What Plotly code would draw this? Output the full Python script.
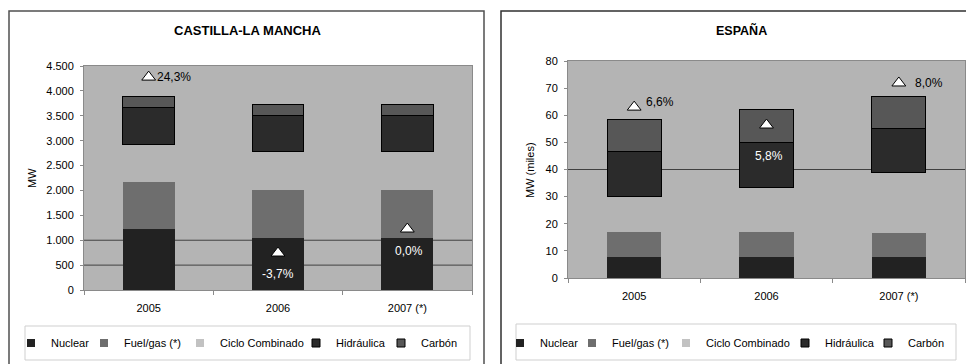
import plotly.graph_objects as go

# ---------------- data ----------------
years = ["2005", "2006", "2007 (*)"]
series_names = ["Nuclear", "Fuel/gas (*)", "Ciclo Combinado", "Hidráulica", "Carbón"]

# Castilla-La Mancha (MW)
clm_nuclear = [1220, 1050, 1050]
clm_fuelgas = [955, 958, 958]
clm_ciclo = [750, 783, 783]
clm_hidraulica = [735, 723, 723]
clm_carbon = [230, 215, 215]

# España (miles de MW)
esp_nuclear = [7.8, 7.8, 7.8]
esp_fuelgas = [9.0, 9.0, 8.7]
esp_ciclo = [13.2, 16.6, 22.3]
esp_hidraulica = [16.8, 16.5, 16.4]
esp_carbon = [11.8, 12.1, 11.6]

# variation labels
clm_change_labels = ["24,3%", "-3,7%", "0,0%"]
esp_change_labels = ["6,6%", "5,8%", "8,0%"]

clm_ref_lines = [500, 1000]
esp_ref_lines = [40]

clm_yticks = [0, 500, 1000, 1500, 2000, 2500, 3000, 3500, 4000, 4500]
esp_yticks = [0, 10, 20, 30, 40, 50, 60, 70, 80]

# ---------------- styles ----------------
W, H = 966, 364
FONT = "Liberation Sans, Arial, sans-serif"
BG = "#b4b4b4"
colors = ["#222222", "#6e6e6e", BG, "#2b2b2b", "#575757"]
legend_colors = ["#222222", "#6e6e6e", "#c2c2c2", "#2b2b2b", "#575757"]
outline = [0, 0, 0, 1, 1]

# legend text start positions (px) per panel
clm_legend_text_px = [49, 122, 218, 334, 419]
esp_legend_text_px = [538, 610, 704, 823, 906]


def px_x(p):
    return p / W


def px_y(p):
    return 1 - p / H


fig = go.Figure()

clm_series = [clm_nuclear, clm_fuelgas, clm_ciclo, clm_hidraulica, clm_carbon]
esp_series = [esp_nuclear, esp_fuelgas, esp_ciclo, esp_hidraulica, esp_carbon]

for i, name in enumerate(series_names):
    fig.add_trace(go.Bar(
        x=years, y=clm_series[i], name=name, xaxis="x", yaxis="y",
        marker=dict(color=colors[i], line=dict(color="#000000", width=outline[i])),
        width=0.40, showlegend=False, hoverinfo="skip"))
    fig.add_trace(go.Bar(
        x=years, y=esp_series[i], name=name, xaxis="x2", yaxis="y2",
        marker=dict(color=colors[i], line=dict(color="#000000", width=outline[i])),
        width=0.41, showlegend=False, hoverinfo="skip"))

# legend entries: one small legend per entry so they can sit where the original has them
legend_layouts = {}
n = 0
for panel, (xa, ya, text_px) in enumerate((("x", "y", clm_legend_text_px), ("x2", "y2", esp_legend_text_px))):
    for i, name in enumerate(series_names):
        n += 1
        lname = "legend" if n == 1 else f"legend{n}"
        fig.add_trace(go.Scatter(
            x=[None], y=[None], name=name, xaxis=xa, yaxis=ya, mode="markers",
            marker=dict(symbol="square", size=8, color=legend_colors[i],
                        line=dict(color="#000000", width=outline[i])),
            legend=lname, showlegend=True))
        legend_layouts[lname] = dict(
            orientation="h", x=px_x(text_px[i] - 38), xanchor="left", y=px_y(343), yanchor="middle",
            font=dict(family=FONT, size=11, color="black"), bgcolor="rgba(0,0,0,0)",
            borderwidth=0, itemclick=False, itemdoubleclick=False)

# triangles for variation markers
clm_tri_y = [4277, 743, 1225]
clm_label_y = [4277, 321, 783]
esp_tri_y = [63.0, 56.4, 71.9]
esp_label_y = [64.9, 45.0, 72.0]

tri_marker = dict(symbol="triangle-up", size=12, color="white", line=dict(color="black", width=1))
fig.add_trace(go.Scatter(x=years, y=clm_tri_y, mode="markers", xaxis="x", yaxis="y", showlegend=False,
                         marker=tri_marker, hoverinfo="skip"))
fig.add_trace(go.Scatter(x=years, y=esp_tri_y, mode="markers", xaxis="x2", yaxis="y2", showlegend=False,
                         marker=tri_marker, hoverinfo="skip"))

annotations = []
clm_label_style = [("left", 6, "black"), ("center", 0, "white"), ("center", 2, "white")]
esp_label_style = [("left", 10, "black"), ("center", 2, "white"), ("left", 14, "black")]
for i in range(3):
    xa, xs, col = clm_label_style[i]
    annotations.append(dict(x=i, y=clm_label_y[i], xref="x", yref="y", text=clm_change_labels[i],
                            showarrow=False, xanchor=xa, xshift=xs, yanchor="middle",
                            font=dict(family=FONT, size=12, color=col)))
    xa, xs, col = esp_label_style[i]
    annotations.append(dict(x=i, y=esp_label_y[i], xref="x2", yref="y2", text=esp_change_labels[i],
                            showarrow=False, xanchor=xa, xshift=xs, yanchor="middle",
                            font=dict(family=FONT, size=12, color=col)))

# titles
annotations.append(dict(x=px_x(247), y=px_y(30), xref="paper", yref="paper", text="<b>CASTILLA-LA MANCHA</b>",
                        showarrow=False, xanchor="center", yanchor="middle",
                        font=dict(family=FONT, size=13, color="black")))
annotations.append(dict(x=px_x(741), y=px_y(30), xref="paper", yref="paper", text="<b>ESPAÑA</b>",
                        showarrow=False, xanchor="center", yanchor="middle",
                        font=dict(family=FONT, size=12.5, color="black")))
# axis titles
annotations.append(dict(x=px_x(32), y=px_y(178), xref="paper", yref="paper", text="MW", textangle=-90,
                        showarrow=False, xanchor="center", yanchor="middle",
                        font=dict(family=FONT, size=11, color="black")))
annotations.append(dict(x=px_x(530), y=px_y(170), xref="paper", yref="paper", text="MW (miles)", textangle=-90,
                        showarrow=False, xanchor="center", yanchor="middle",
                        font=dict(family=FONT, size=11, color="black")))

shapes = []
# panel borders
shapes.append(dict(type="rect", xref="paper", yref="paper", x0=px_x(9), x1=px_x(484), y0=px_y(380), y1=px_y(11),
                   line=dict(color="#505050", width=1.5), fillcolor="rgba(0,0,0,0)", layer="below"))
shapes.append(dict(type="rect", xref="paper", yref="paper", x0=px_x(501), x1=px_x(990), y0=px_y(380), y1=px_y(11),
                   line=dict(color="#303030", width=1.5), fillcolor="rgba(0,0,0,0)", layer="below"))
# legend boxes
shapes.append(dict(type="rect", xref="paper", yref="paper", x0=px_x(25), x1=px_x(470), y0=px_y(360), y1=px_y(326),
                   line=dict(color="#cfcfcf", width=1), fillcolor="rgba(0,0,0,0)", layer="below"))
shapes.append(dict(type="rect", xref="paper", yref="paper", x0=px_x(516), x1=px_x(956), y0=px_y(360), y1=px_y(324),
                   line=dict(color="#cfcfcf", width=1), fillcolor="rgba(0,0,0,0)", layer="below"))
# reference lines
for v in clm_ref_lines:
    shapes.append(dict(type="line", xref="x domain", yref="y", x0=0, x1=1, y0=v, y1=v,
                       line=dict(color="#404040", width=1), layer="below"))
for v in esp_ref_lines:
    shapes.append(dict(type="line", xref="x2 domain", yref="y2", x0=0, x1=1, y0=v, y1=v,
                       line=dict(color="#404040", width=1), layer="below"))

axis_common = dict(showline=True, mirror=True, linecolor="#8a8a8a", linewidth=1, showgrid=False, zeroline=False,
                   tickfont=dict(family=FONT, size=11, color="black"))

fig.update_layout(
    width=W, height=H,
    margin=dict(l=0, r=0, t=0, b=0, autoexpand=False),
    paper_bgcolor="white", plot_bgcolor=BG,
    barmode="stack",
    separators=",.",
    font=dict(family=FONT, size=11, color="black"),
    xaxis=dict(domain=[px_x(84), px_x(472)], anchor="y", type="category", range=[-0.5, 2.5],
               ticks="outside", ticklen=4, tickangle=0,
               tickcolor="#8a8a8a", tickson="boundaries", ticklabelstandoff=8, **axis_common),
    yaxis=dict(domain=[px_y(290), px_y(66)], anchor="x", range=[0, 4500], tickvals=clm_yticks,
               tickformat=",d", ticks="outside", ticklen=3, tickcolor="#8a8a8a", ticklabelstandoff=4,
               **axis_common),
    xaxis2=dict(domain=[px_x(568), px_x(965)], anchor="y2", type="category", range=[-0.5, 2.5],
                ticks="outside", ticklen=4, tickangle=0,
                tickcolor="#8a8a8a", tickson="boundaries", ticklabelstandoff=8, **axis_common),
    yaxis2=dict(domain=[px_y(278), px_y(61)], anchor="x2", range=[0, 80], tickvals=esp_yticks,
                ticks="outside", ticklen=3, tickcolor="#8a8a8a", ticklabelstandoff=4, **axis_common),
    annotations=annotations,
    shapes=shapes,
    showlegend=True,
    **legend_layouts,
)

fig.write_html("out.html", config={"displayModeBar": False},
               post_script="document.body.style.margin='0';")
